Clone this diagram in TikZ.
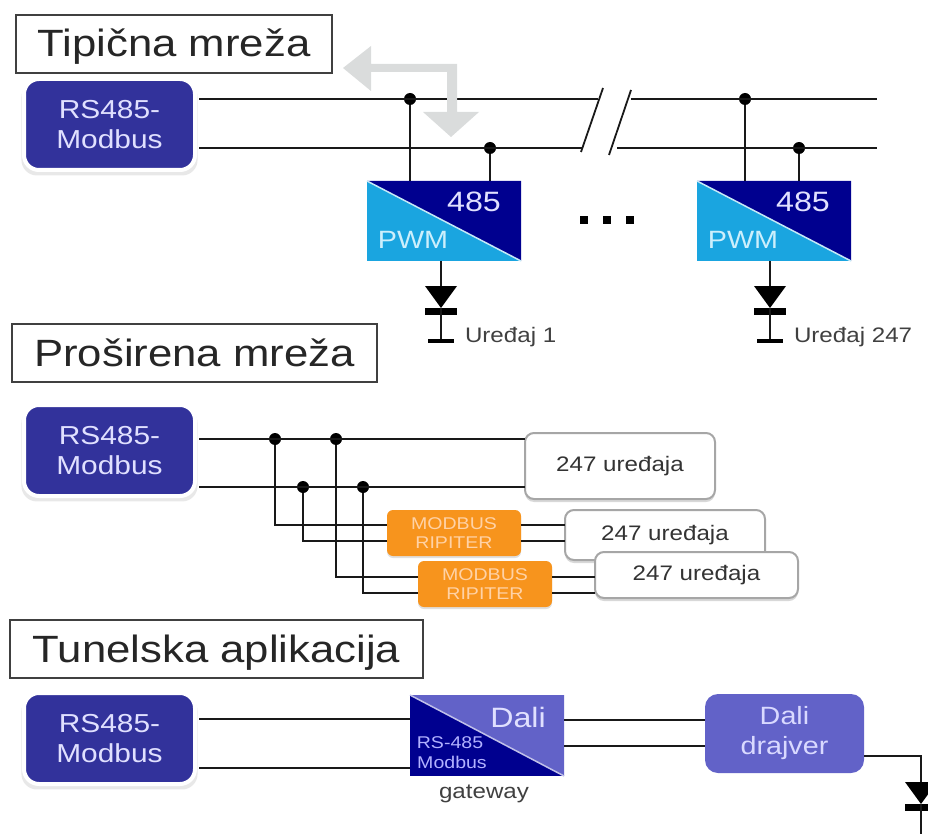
\documentclass[tikz,border=0pt]{standalone}
\usepackage{fontspec}
\setmainfont[FakeStretch=1.15]{Liberation Sans}
\usetikzlibrary{positioning,shadows}
\definecolor{masterblue}{HTML}{32329B}
\definecolor{navyblue}{HTML}{00008F}
\definecolor{skyblue}{HTML}{1AA5E0}
\definecolor{daliblue}{HTML}{6262C8}
\definecolor{ripiterorange}{HTML}{F7941D}
\definecolor{arrowgrey}{HTML}{DADCDC}
\tikzset{
    x = 1pt,
    y = -1pt,
    every node/.style = {
        inner sep = 0pt,
        outer sep = 0pt
    },
    title/.style = {
        anchor = north west,
        draw = black!75,
        line width = 1.4pt,
        fill = white,
        text = black!85,
        minimum height = 58pt,
        text height = 26pt,
        text depth = 0pt,
        font = \fontsize{38}{44}\selectfont
    },
    master/.style = {
        anchor = north west,
        draw = white,
        line width = 4pt,
        fill = masterblue,
        rounded corners = 15pt,
        drop shadow = {shadow xshift = 0pt, shadow yshift = -4pt, shadow scale = 1.03, fill = black!18},
        text = white!88!blue,
        align = center,
        minimum width = 171pt,
        minimum height = 91pt,
        font = \fontsize{26}{30}\selectfont
    },
    converter/.style = {
        anchor = north west,
        minimum width = 154pt,
        minimum height = 80pt
    },
    devices/.style = {
        anchor = north west,
        draw = black!35,
        line width = 2pt,
        fill = white,
        rounded corners = 9pt,
        drop shadow = {shadow xshift = 0pt, shadow yshift = -3pt, fill = black!30},
        text = black!80,
        font = \fontsize{21}{25}\selectfont
    },
    ripiter/.style = {
        anchor = north west,
        fill = ripiterorange,
        rounded corners = 6pt,
        drop shadow = {shadow xshift = 0pt, shadow yshift = -2pt, fill = black!25},
        text = orange!35!white,
        align = center,
        minimum width = 134pt,
        minimum height = 46pt,
        font = \fontsize{17}{19}\selectfont
    },
    driver/.style = {
        anchor = north west,
        fill = daliblue,
        rounded corners = 13pt,
        text = white!85!blue,
        align = center,
        minimum width = 159pt,
        minimum height = 79pt,
        font = \fontsize{25}{30}\selectfont
    },
    big label/.style = {
        text = white!88!blue,
        font = \fontsize{28}{32}\selectfont
    },
    pwm label/.style = {
        text = white!80!cyan,
        font = \fontsize{25}{28}\selectfont
    },
    small label/.style = {
        text = white!70!blue,
        font = \fontsize{17}{20}\selectfont
    },
    note/.style = {
        anchor = west,
        text = black!75,
        font = \fontsize{21}{25}\selectfont
    },
    junction/.style = {
        circle,
        fill = black,
        minimum size = 12pt
    },
    wire/.style = {
        draw = black!90,
        line width = 2.4pt
    },
    thin wire/.style = {
        draw = black!90,
        line width = 1.8pt
    },
    dotmark/.style = {
        fill = black,
        minimum size = 8pt
    }
}
% diode: name, x, top y
\newcommand{\ledsymbol}[3]{
    \coordinate (#1 in) at (#2,#3);
    \coordinate (#1 out) at (#2,#3+56);
    \fill[black] (#2-16,#3) -- (#2+16,#3) -- (#2,#3+22) -- cycle;
    \fill[black] (#2-16,#3+22) rectangle (#2+16,#3+29);
    \draw[thin wire] (#2,#3+22) -- (#1 out);
    \draw[black, line width = 3.5pt] (#2-13,#3+55) -- (#2+13,#3+55);
}

\begin{document}
\begin{tikzpicture}
    \clip (0,0) rectangle (928,834);

    % tipicna mreza
    \node (title1) at (16,15) [title, minimum width = 316pt]{Tipična mreža};
    \node (master1) at (24,79) [master]{RS485-\\Modbus};
    \coordinate (bus1a) at (199,99);
    \coordinate (bus1b) at (199,148);
    \coordinate (break1a) at (598,99);
    \coordinate (break1b) at (582,148);
    \coordinate (break2a) at (631,99);
    \coordinate (break2b) at (617,148);
    \coordinate (bus1c) at (877,99);
    \coordinate (bus1d) at (877,148);
    \node (conv1) at (367,181) [converter, fill = skyblue]{};
    \node (conv2) at (697,181) [converter, fill = skyblue]{};
    \fill[navyblue] (conv1.north west) -- (conv1.north east) -- (conv1.south east) -- cycle;
    \fill[navyblue] (conv2.north west) -- (conv2.north east) -- (conv2.south east) -- cycle;
    \draw[white!75!skyblue, line width = 1.5pt] (conv1.north west) -- (conv1.south east);
    \draw[white!75!skyblue, line width = 1.5pt] (conv2.north west) -- (conv2.south east);
    \node (label485a) at (474,202) [big label]{485};
    \node (labelpwma) at (413,240) [pwm label]{PWM};
    \node (label485b) at (803,202) [big label]{485};
    \node (labelpwmb) at (743,240) [pwm label]{PWM};
    \node (dot1) at (410,99) [junction]{};
    \node (dot2) at (490,148) [junction]{};
    \node (dot3) at (745,99) [junction]{};
    \node (dot4) at (799,148) [junction]{};
    \draw[wire] (bus1a) -- (break1a);
    \draw[wire] (bus1b) -- (break1b);
    \draw[wire] (break2a) -- (bus1c);
    \draw[wire] (break2b) -- (bus1d);
    \draw[wire] (dot1) -- (dot1 |- conv1.north);
    \draw[wire] (dot2) -- (dot2 |- conv1.north);
    \draw[wire] (dot3) -- (dot3 |- conv2.north);
    \draw[wire] (dot4) -- (dot4 |- conv2.north);
    \coordinate (slash1a) at (603,88);
    \coordinate (slash1b) at (581,152);
    \coordinate (slash2a) at (631,90);
    \coordinate (slash2b) at (609,155);
    \draw[thin wire] (slash1a) -- (slash1b);
    \draw[thin wire] (slash2a) -- (slash2b);
    \fill[arrowgrey] (343,68) -- (371,46) -- (371,64) -- (457,64) -- (457,112) -- (479,112)
        -- (451,137) -- (423,112) -- (447,112) -- (447,72) -- (371,72) -- (371,91) -- cycle;
    \node (more1) at (584,220) [dotmark]{};
    \node (more2) at (607,220) [dotmark]{};
    \node (more3) at (630,220) [dotmark]{};
    \ledsymbol{led1}{441}{286}
    \ledsymbol{led2}{770}{286}
    \draw[thin wire] (conv1.south -| led1 in) -- (led1 in);
    \draw[thin wire] (conv2.south -| led2 in) -- (led2 in);
    \node (device1) at (465,337) [note]{Uređaj 1};
    \node (device2) at (794,337) [note]{Uređaj 247};

    % prosirena mreza
    \node (title2) at (12,324) [title, minimum width = 365pt]{Proširena mreža};
    \node (master2) at (24,405) [master]{RS485-\\Modbus};
    \node (box1) at (525,433) [devices, minimum width = 190pt, minimum height = 66pt]{247 uređaja};
    \node (box2) at (565,510) [devices, minimum width = 200pt, minimum height = 50pt]{247 uređaja};
    \node (box3) at (595,552) [devices, minimum width = 203pt, minimum height = 46pt]{247 uređaja};
    \node (rip1) at (387,510) [ripiter]{MODBUS\\RIPITER};
    \node (rip2) at (418,561) [ripiter]{MODBUS\\RIPITER};
    \coordinate (bus2a) at (199,439);
    \coordinate (bus2b) at (199,487);
    \node (dot5) at (275,439) [junction]{};
    \node (dot6) at (303,487) [junction]{};
    \node (dot7) at (336,439) [junction]{};
    \node (dot8) at (363,487) [junction]{};
    \draw[wire] (bus2a) -- (bus2a -| box1.west);
    \draw[wire] (bus2b) -- (bus2b -| box1.west);
    \draw[thin wire] (dot5) |- (rip1.west |- 0,525);
    \draw[thin wire] (dot6) |- (rip1.west |- 0,541);
    \draw[thin wire] (dot7) |- (rip2.west |- 0,577);
    \draw[thin wire] (dot8) |- (rip2.west |- 0,593);
    \draw[thin wire] (rip1.east |- 0,525) -- (box2.west |- 0,525);
    \draw[thin wire] (rip1.east |- 0,541) -- (box2.west |- 0,541);
    \draw[thin wire] (rip2.east |- 0,577) -- (box3.west |- 0,577);
    \draw[thin wire] (rip2.east |- 0,593) -- (box3.west |- 0,593);

    % tunelska aplikacija
    \node (title3) at (10,620) [title, minimum width = 413pt]{Tunelska aplikacija};
    \node (master3) at (24,693) [master]{RS485-\\Modbus};
    \node (gate) at (410,695) [converter, fill = navyblue, minimum height = 81pt]{};
    \fill[daliblue] (gate.north west) -- (gate.north east) -- (gate.south east) -- cycle;
    \draw[white!60!daliblue, line width = 1.5pt] (gate.north west) -- (gate.south east);
    \node (labeldali) at (518,717) [big label]{Dali};
    \node (labelrs) at (450,743) [small label]{RS-485};
    \node (labelmodbus) at (452,762) [small label]{Modbus};
    \node (labelgate) at (484,794) [note, anchor = center]{gateway};
    \node (drv) at (705,694) [driver]{Dali\\drajver};
    \coordinate (bus3a) at (199,719);
    \coordinate (bus3b) at (199,768);
    \draw[wire] (bus3a) -- (bus3a -| gate.west);
    \draw[wire] (bus3b) -- (bus3b -| gate.west);
    \draw[wire] (gate.east |- 0,720) -- (drv.west |- 0,720);
    \draw[wire] (gate.east |- 0,746) -- (drv.west |- 0,746);
    \ledsymbol{led3}{921}{782}
    \draw[thin wire] (drv.east |- 0,756) -| (led3 in);
\end{tikzpicture}
\end{document}
